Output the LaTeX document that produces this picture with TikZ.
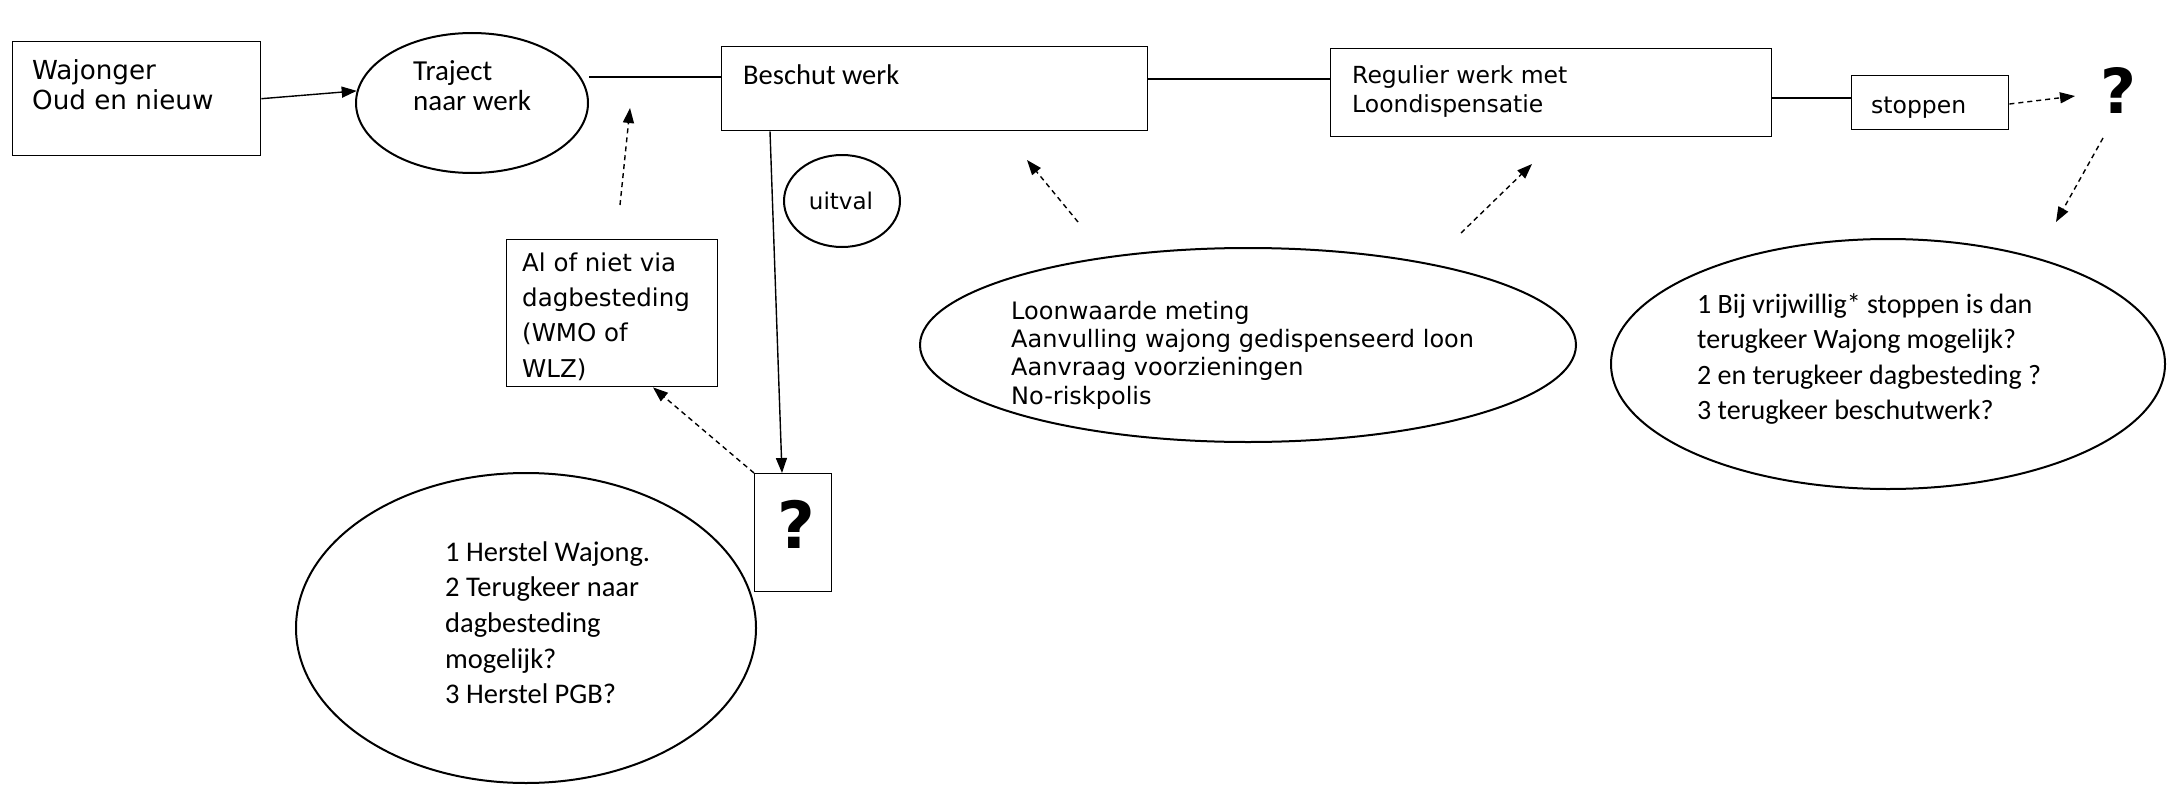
\documentclass[tikz,border=0pt]{standalone}
\usepackage{fontspec}
\usetikzlibrary{shapes.geometric,arrows.meta,calc}
\newfontfamily\calfont{Carlito}
\newfontfamily\verfont{DejaVu Sans}
\newcommand\fsz[2]{\fontsize{#1}{#2}\selectfont}
\begin{document}
\begin{tikzpicture}[x=1pt,y=-1pt,
  box/.style={draw, line width=1.4pt, inner sep=0pt, anchor=north west},
  ell/.style={draw, ellipse, line width=2pt, inner sep=0pt},
  txt/.style={inner sep=0pt, anchor=north west, align=left},
  conn/.style={line width=1.4pt},
  arr/.style={conn, -{Triangle[length=15pt,width=11pt]}},
  darr/.style={arr, dash pattern=on 5pt off 4pt},
  qmark/.style={inner sep=0pt, anchor=base}
]
\useasboundingbox[fill=white] (0,0) rectangle (2167,784);

% top row
\node[box, minimum width=248pt, minimum height=114pt] (waj) at (12,41) {};
\node[txt, font=\verfont\fsz{26.2}{30}] (wajt) at (32,58) {\strut Wajonger\\Oud en nieuw};

\node[ell, minimum width=232pt, minimum height=140pt] (traj) at (472,103) {};
\node[txt, font=\calfont\fsz{29}{30}] (trajt) at (413,59) {\strut Traject\\naar werk};

\node[box, minimum width=426pt, minimum height=84pt] (besch) at (721,46) {};
\node[txt, font=\calfont\fsz{28.5}{34}] (bescht) at (743,60.2) {\strut Beschut werk};

\node[box, minimum width=441pt, minimum height=88pt] (reg) at (1330,48) {};
\node[txt, font=\verfont\fsz{23.5}{29}] (regt) at (1352,62.7) {\strut Regulier werk met\\Loondispensatie};

\node[box, minimum width=157pt, minimum height=54pt] (stop) at (1851,75) {};
\node[txt, font=\verfont\fsz{23.5}{29}] (stopt) at (1871,92.7) {\strut stoppen};

\node[qmark, font=\verfont\bfseries\fsz{62}{70}] (qtop) at (2118,113) {?};

% middle items
\node[ell, minimum width=116pt, minimum height=92pt] (uitv) at (842,201) {};
\node[qmark, font=\verfont\fsz{23}{28}] (uitvt) at (841,209) {uitval};

\node[box, minimum width=211pt, minimum height=147pt] (ai) at (506,239) {};
\node[txt, font=\verfont\fsz{24.5}{35.3}] (ait) at (522,246.3) {\strut Al of niet via\\dagbesteding\\(WMO of\\WLZ)};

\node[box, minimum width=77pt, minimum height=118pt] (qbox) at (754,473) {};
\node[qmark, font=\verfont\bfseries\fsz{65}{72}] (qboxt) at (796,548) {?};

% ellipses with text
\node[ell, minimum width=656pt, minimum height=194pt] (mid) at (1248,345) {};
\node[txt, font=\verfont\fsz{24}{28.3}] (midt) at (1011,299.2) {\strut Loonwaarde meting\\Aanvulling wajong gedispenseerd loon\\Aanvraag voorzieningen\\No-riskpolis};

\node[ell, minimum width=554pt, minimum height=250pt] (rell) at (1888,364) {};
\node[txt, font=\calfont\fsz{28}{35.5}] (rellt) at (1697,288.2) {\strut 1 Bij vrijwillig* stoppen is dan\\terugkeer Wajong mogelijk?\\2 en terugkeer dagbesteding ?\\3 terugkeer beschutwerk?};

\node[ell, minimum width=460pt, minimum height=310pt] (lell) at (526,628) {};
\node[txt, font=\calfont\fsz{28.5}{35.7}] (lellt) at (445,536) {\strut 1 Herstel Wajong.\\2 Terugkeer naar\\dagbesteding\\mogelijk?\\3 Herstel PGB?};

% helper coordinates
\path (besch.north west) ++(0,31) coordinate (bwl);
\path (besch.north east) ++(0,33) coordinate (bel);
\path (stop.north west) ++(0,23) coordinate (swl);
\path (stop.north east) ++(0,29) coordinate (ser);
\coordinate (qin) at (2075,96);
\coordinate (qout) at (2103,138);
\coordinate (rin) at (2056,222);
\coordinate (m1) at (1078,222);
\coordinate (m1t) at (1027,160);
\coordinate (m2) at (1461,233);
\coordinate (m2t) at (1532,164);
\coordinate (a1) at (620,205);
\coordinate (a1t) at (630,108);
\path (besch.south west) ++(49,0) coordinate (bd);
\path (qbox.north west) ++(28,0) coordinate (qt);
\path (ai.south west) ++(147,0) coordinate (ab);

% connectors
\draw[arr] (waj.east) -- (traj.174);
\draw[conn] (traj.east |- bwl) -- (bwl);
\draw[conn] (bel) -- (reg.west |- bel);
\draw[conn] (reg.east |- swl) -- (swl);
\draw[darr] (ser) -- (qin);
\draw[darr] (qout) -- (rin);
\draw[darr] (m1) -- (m1t);
\draw[darr] (m2) -- (m2t);
\draw[darr] (a1) -- (a1t);
\draw[arr] (bd) -- (qt);
\draw[darr] (qbox.north west) -- (ab);
\end{tikzpicture}
\end{document}
